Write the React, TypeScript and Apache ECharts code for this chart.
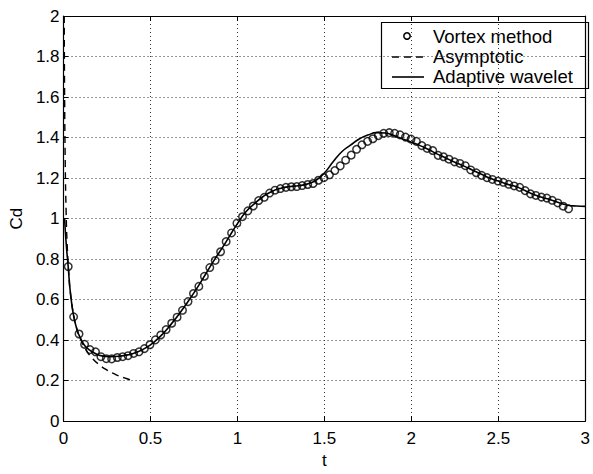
import React, { useEffect, useRef } from "react";
import * as echarts from "echarts";

const xTicks = [0, 0.5, 1, 1.5, 2, 2.5, 3];
const yTicks = [0, 0.2, 0.4, 0.6, 0.8, 1, 1.2, 1.4, 1.6, 1.8, 2];

const legendLabels = ["Vortex method", "Asymptotic", "Adaptive wavelet"];

const vortexT = [
  0.027, 0.058, 0.089, 0.121, 0.152, 0.184, 0.215, 0.246, 0.277, 0.309,
  0.34, 0.371, 0.403, 0.434, 0.465, 0.497, 0.528, 0.559, 0.59, 0.622,
  0.653, 0.684, 0.716, 0.747, 0.778, 0.81, 0.841, 0.872, 0.903, 0.935,
  0.966, 0.997, 1.029, 1.06, 1.091, 1.122, 1.154, 1.185, 1.216, 1.247,
  1.279, 1.31, 1.341, 1.372, 1.404, 1.435, 1.466, 1.497, 1.529, 1.56,
  1.591, 1.622, 1.654, 1.685, 1.716, 1.748, 1.779, 1.81, 1.841, 1.873,
  1.904, 1.935, 1.966, 1.998, 2.029, 2.06, 2.091, 2.123, 2.154, 2.185,
  2.216, 2.248, 2.279, 2.31, 2.341, 2.373, 2.404, 2.435, 2.466, 2.498,
  2.529, 2.56, 2.591, 2.623, 2.654, 2.685, 2.716, 2.748, 2.779, 2.81,
  2.842, 2.873, 2.904,
];
const vortexCd = [
  0.763, 0.515, 0.43, 0.379, 0.353, 0.342, 0.318, 0.308, 0.307, 0.314,
  0.318, 0.323, 0.334, 0.342, 0.358, 0.377, 0.401, 0.425, 0.452, 0.483,
  0.513, 0.547, 0.59, 0.63, 0.665, 0.715, 0.758, 0.793, 0.836, 0.886,
  0.929, 0.977, 1.009, 1.038, 1.062, 1.089, 1.105, 1.126, 1.14, 1.148,
  1.154, 1.157, 1.158, 1.163, 1.168, 1.173, 1.189, 1.202, 1.216, 1.237,
  1.26, 1.288, 1.313, 1.342, 1.364, 1.381, 1.394, 1.409, 1.421, 1.424,
  1.421, 1.413, 1.402, 1.392, 1.381, 1.36, 1.346, 1.336, 1.312, 1.305,
  1.293, 1.28, 1.272, 1.261, 1.24, 1.226, 1.213, 1.202, 1.193, 1.185,
  1.179, 1.169, 1.161, 1.154, 1.138, 1.122, 1.114, 1.106, 1.101, 1.09,
  1.077, 1.061, 1.048,
];

const asymT = [0.004, 0.006, 0.01, 0.015, 0.02, 0.03, 0.04, 0.06, 0.08, 0.1, 0.13, 0.16, 0.2, 0.25, 0.3, 0.35, 0.4];
const asymCd = [2.0, 1.63, 1.26, 1.03, 0.89, 0.73, 0.63, 0.515, 0.445, 0.4, 0.35, 0.315, 0.282, 0.252, 0.23, 0.213, 0.2];

const waveT = [
  0.006, 0.015, 0.027, 0.04, 0.058, 0.08, 0.1, 0.12, 0.15, 0.18, 0.22, 0.27,
  0.32, 0.37, 0.42, 0.47, 0.52, 0.57, 0.62, 0.67, 0.72, 0.77, 0.82, 0.87,
  0.92, 0.97, 1.0, 1.05, 1.1, 1.15, 1.2, 1.25, 1.3, 1.35, 1.4, 1.45, 1.5,
  1.55, 1.6, 1.65, 1.7, 1.75, 1.8, 1.85, 1.9, 1.95, 2.0, 2.05, 2.1, 2.15,
  2.2, 2.25, 2.3, 2.35, 2.4, 2.45, 2.5, 2.55, 2.6, 2.65, 2.7, 2.75, 2.8,
  2.85, 2.9, 2.95, 3.0,
];
const waveCd = [
  1.0, 0.88, 0.76, 0.63, 0.52, 0.445, 0.405, 0.375, 0.35, 0.335, 0.322, 0.318,
  0.32, 0.327, 0.34, 0.36, 0.39, 0.43, 0.48, 0.535, 0.595, 0.66, 0.73, 0.8,
  0.865, 0.935, 0.975, 1.035, 1.075, 1.11, 1.135, 1.15, 1.158, 1.162, 1.17, 1.188, 1.225,
  1.28, 1.33, 1.362, 1.393, 1.412, 1.424, 1.422, 1.41, 1.393, 1.377, 1.36, 1.34, 1.318,
  1.298, 1.278, 1.26, 1.24, 1.22, 1.2, 1.185, 1.17, 1.158, 1.14, 1.12, 1.105, 1.093,
  1.078, 1.066, 1.062, 1.06,
];

const zip = (a: number[], b: number[]) => a.map((v, i) => [v, b[i]]);

const FONT = "'Liberation Sans', Arial, Helvetica, sans-serif";

export default function App() {
  const ref = useRef<HTMLDivElement>(null);
  useEffect(() => {
    if (!ref.current) return;
    const chart = echarts.init(ref.current, null, { renderer: "svg" });
    const axisCommon = {
      type: "value" as const,
      axisLine: { show: true, onZero: false, lineStyle: { color: "#000", width: 1.2 } },
      axisTick: { show: true, inside: true, length: 5, lineStyle: { color: "#000" } },
    };
    chart.setOption({
      animation: false,
      backgroundColor: "#fff",
      grid: { left: 62, right: 2, top: 16, bottom: 41, containLabel: false },
      xAxis: [
        {
          ...axisCommon,
          min: xTicks[0],
          max: xTicks[xTicks.length - 1],
          interval: 0.5,
          position: "bottom",
          name: "t",
          nameLocation: "middle",
          nameGap: 24,
          nameTextStyle: { color: "#000", fontSize: 17, fontFamily: FONT },
          axisLabel: { color: "#000", fontSize: 17, fontFamily: FONT, margin: 9 },
          splitLine: { show: true, lineStyle: { type: [1, 3], color: "#333", width: 1 } },
        },
        {
          ...axisCommon,
          min: xTicks[0],
          max: xTicks[xTicks.length - 1],
          interval: 0.5,
          position: "top",
          axisLabel: { show: false },
          splitLine: { show: false },
        },
      ],
      yAxis: [
        {
          ...axisCommon,
          min: yTicks[0],
          max: yTicks[yTicks.length - 1],
          interval: 0.2,
          position: "left",
          name: "Cd",
          nameLocation: "middle",
          nameGap: 34,
          nameTextStyle: { color: "#000", fontSize: 17, fontFamily: FONT },
          axisLabel: { color: "#000", fontSize: 17, fontFamily: FONT, margin: 4 },
          splitLine: { show: true, lineStyle: { type: [1, 3], color: "#333", width: 1 } },
        },
        {
          ...axisCommon,
          min: yTicks[0],
          max: yTicks[yTicks.length - 1],
          interval: 0.2,
          position: "right",
          axisLabel: { show: false },
          splitLine: { show: false },
        },
      ],
      series: [
        {
          name: legendLabels[0],
          type: "scatter",
          data: zip(vortexT, vortexCd),
          symbol: "circle",
          symbolSize: 7.5,
          itemStyle: { color: "rgba(0,0,0,0)", borderColor: "#000", borderWidth: 1.5 },
          z: 3,
        },
        {
          name: legendLabels[1],
          type: "line",
          data: zip(asymT, asymCd),
          symbol: "none",
          smooth: true,
          lineStyle: { color: "#000", width: 1.4, type: [7, 5] },
          z: 2,
        },
        {
          name: legendLabels[2],
          type: "line",
          data: zip(waveT, waveCd),
          symbol: "none",
          smooth: true,
          lineStyle: { color: "#000", width: 1.6 },
          z: 2,
        },
      ],
      graphic: [
        {
          type: "group",
          z: 100,
          children: [
            { type: "rect", shape: { x: 381.5, y: 22.5, width: 207, height: 66 }, style: { fill: "#fff", stroke: "#000", lineWidth: 1.2 } },
            { type: "circle", shape: { cx: 407, cy: 36, r: 3.2 }, style: { fill: "none", stroke: "#000", lineWidth: 1.5 } },
            { type: "line", shape: { x1: 392, y1: 57, x2: 424, y2: 57 }, style: { stroke: "#000", lineWidth: 1.4, lineDash: [7, 5] } },
            { type: "line", shape: { x1: 392, y1: 77, x2: 424, y2: 77 }, style: { stroke: "#000", lineWidth: 1.6 } },
            { type: "text", x: 433, y: 36, style: { text: legendLabels[0], fill: "#000", font: `18.5px ${FONT}`, textVerticalAlign: "middle", verticalAlign: "middle" } },
            { type: "text", x: 433, y: 56, style: { text: legendLabels[1], fill: "#000", font: `18.5px ${FONT}`, textVerticalAlign: "middle", verticalAlign: "middle" } },
            { type: "text", x: 433, y: 76, style: { text: legendLabels[2], fill: "#000", font: `18.5px ${FONT}`, textVerticalAlign: "middle", verticalAlign: "middle" } },
          ],
        },
      ],
    });
    return () => chart.dispose();
  }, []);
  return (
    <div
      ref={ref}
      style={{ position: "fixed", left: 0, top: 0, width: 593, height: 474, background: "#fff" }}
    />
  );
}
